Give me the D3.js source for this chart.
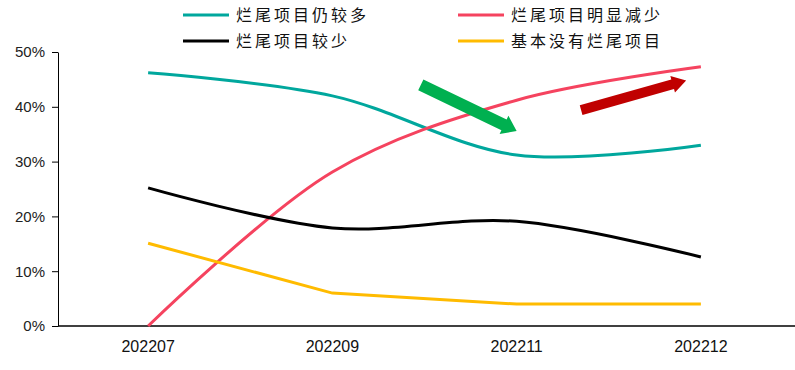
<!DOCTYPE html>
<html>
<head>
<meta charset="utf-8">
<script src="https://cdn.jsdelivr.net/npm/d3@7"></script>
<style>
  body { margin: 0; background: #fff; }
  text { font-family: "Liberation Sans", Arial, sans-serif; }
</style>
</head>
<body>
<div id="chart"></div>
<script>
// data
var categories = ["202207", "202209", "202211", "202212"];
var seriesNames = ["烂尾项目仍较多", "烂尾项目明显减少", "烂尾项目较少", "基本没有烂尾项目"];
var stillMany = [0.462, 0.42, 0.312, 0.33];
var clearlyLess = [0.0, 0.281, 0.412, 0.473];
var fewer = [0.252, 0.179, 0.191, 0.126];
var none = [0.151, 0.06, 0.04, 0.04];
var yTicks = [0, 0.1, 0.2, 0.3, 0.4, 0.5];
var colors = ["#00a79d", "#f5435f", "#000000", "#ffbb00"];
var smoothed = [true, true, true, false];

// annotation arrows: [category position, value]
var arrows = [
  {from: [1.48, 0.44], to: [2.0, 0.356], color: "#00b050", w: 12},
  {from: [2.35, 0.394], to: [2.92, 0.448], color: "#c00000", w: 10}
];

var width = 795, height = 370;
var margin = {top: 52, right: 0, bottom: 44, left: 58};

var svg = d3.select("#chart").append("svg")
  .attr("width", width)
  .attr("height", height);

var x = d3.scaleBand()
  .domain(categories)
  .range([margin.left - 2, width - margin.right - 2]);

var y = d3.scaleLinear()
  .domain([0, 0.5])
  .range([height - margin.bottom, margin.top]);

function cx(c) { return x(c) + x.bandwidth() / 2; }
function px(i) { return x.range()[0] + x.bandwidth() * (i + 0.5); }

// y axis
var yAxis = svg.append("g")
  .attr("transform", "translate(" + margin.left + ",0)")
  .call(d3.axisLeft(y).tickValues(yTicks).tickFormat(d3.format(".0%")).tickSizeInner(6).tickSizeOuter(0));
yAxis.select(".domain").attr("stroke", "#000");
yAxis.selectAll(".tick line").attr("stroke", "#000");
yAxis.selectAll(".tick text").attr("font-size", 15).attr("fill", "#222").attr("x", -13);

// x axis
var xAxis = svg.append("g")
  .attr("transform", "translate(0," + y(0) + ")")
  .call(d3.axisBottom(x).tickSize(0));
xAxis.select(".domain")
  .attr("d", "M" + margin.left + ",0H" + width)
  .attr("stroke", "#000").attr("stroke-width", 1.5);
xAxis.selectAll(".tick text").attr("font-size", 16).attr("fill", "#111").attr("dy", "1.45em");

// lines
var allSeries = [stillMany, clearlyLess, fewer, none];
function makeLine(smooth) {
  return d3.line()
    .x(function(d, i) { return cx(categories[i]); })
    .y(function(d) { return y(d); })
    .curve(smooth ? d3.curveCatmullRom.alpha(0.5) : d3.curveLinear);
}

svg.append("g").selectAll("path")
  .data(allSeries)
  .enter().append("path")
  .attr("d", function(d, i) { return makeLine(smoothed[i])(d); })
  .attr("fill", "none")
  .attr("stroke", function(d, i) { return colors[i]; })
  .attr("stroke-width", 3);

// arrows
arrows.forEach(function(a) {
  var x0 = px(a.from[0]), y0 = y(a.from[1]);
  var x1 = px(a.to[0]), y1 = y(a.to[1]);
  var dx = x1 - x0, dy = y1 - y0, len = Math.sqrt(dx * dx + dy * dy);
  var ux = dx / len, uy = dy / len, nx = -uy, ny = ux;
  var hl = 14, hw = a.w * 0.85, sw = a.w / 2;
  var bx = x1 - ux * hl, by = y1 - uy * hl;
  var pts = [
    [x0 + nx * sw, y0 + ny * sw],
    [bx + nx * sw, by + ny * sw],
    [bx + nx * hw, by + ny * hw],
    [x1, y1],
    [bx - nx * hw, by - ny * hw],
    [bx - nx * sw, by - ny * sw],
    [x0 - nx * sw, y0 - ny * sw]
  ];
  svg.append("polygon")
    .attr("points", pts.map(function(p) { return p.join(","); }).join(" "))
    .attr("fill", a.color);
});

// legend
var legendPos = [[183, 15], [458, 15], [183, 41], [458, 41]];
var legend = svg.append("g").selectAll("g")
  .data(seriesNames)
  .enter().append("g")
  .attr("transform", function(d, i) { return "translate(" + legendPos[i][0] + "," + legendPos[i][1] + ")"; });
legend.append("line")
  .attr("x1", 0).attr("x2", 46)
  .attr("stroke", function(d, i) { return colors[i]; })
  .attr("stroke-width", 3);
legend.append("text")
  .attr("x", 53)
  .attr("dy", "0.35em")
  .attr("font-size", 16)
  .attr("letter-spacing", 3)
  .style("font-family", "'Noto Sans CJK SC', sans-serif")
  .attr("fill", "#111")
  .text(function(d) { return d; });
</script>
</body>
</html>
